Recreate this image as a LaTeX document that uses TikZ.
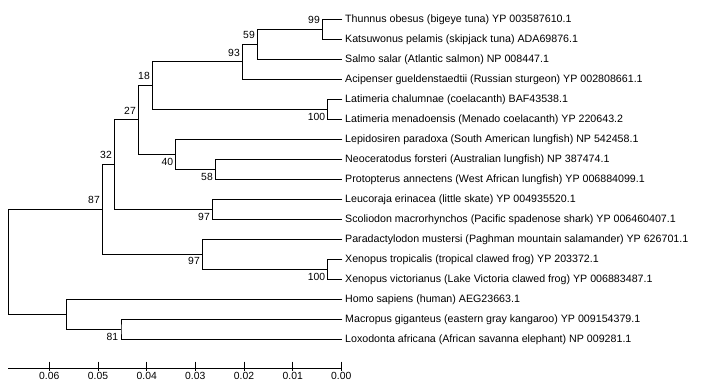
\documentclass[tikz,border=0pt]{standalone}
\usepackage{fontspec}
\setmainfont{Liberation Sans}
\begin{document}
\begin{tikzpicture}[x=1bp,y=-1bp,
  br/.style={draw=black,line width=0.9bp},
  leaf/.style={anchor=west,inner sep=0pt,font=\fontsize{10.7}{12}\selectfont},
  bs/.style={anchor=center,inner sep=0pt,font=\fontsize{10.4}{12}\selectfont},
  tk/.style={anchor=center,inner sep=0pt,font=\fontsize{10.4}{12}\selectfont}]
\useasboundingbox[fill=white] (0,0) rectangle (701,386);
% leaves
\def\lx{342.3}
\coordinate (L1) at (\lx,19.3);
\coordinate (L2) at (\lx,39.3);
\coordinate (L3) at (\lx,59.3);
\coordinate (L4) at (\lx,79.3);
\coordinate (L5) at (\lx,99.3);
\coordinate (L6) at (\lx,119.3);
\coordinate (L7) at (\lx,139.3);
\coordinate (L8) at (\lx,159.3);
\coordinate (L9) at (\lx,179.3);
\coordinate (L10) at (\lx,199.3);
\coordinate (L11) at (\lx,219.3);
\coordinate (L12) at (\lx,239.3);
\coordinate (L13) at (\lx,259.3);
\coordinate (L14) at (\lx,279.3);
\coordinate (L15) at (\lx,299.3);
\coordinate (L16) at (\lx,319.3);
\coordinate (L17) at (\lx,339.3);
% internal nodes
\coordinate (n99) at (322.3,29.3);
\coordinate (n59) at (257.3,44.3);
\coordinate (n93) at (242.3,61.8);
\coordinate (nLa) at (327.7,109.3);
\coordinate (n18) at (152.3,85.5);
\coordinate (n58) at (215.7,169.3);
\coordinate (n40) at (175.7,154.3);
\coordinate (n27) at (138.3,119.9);
\coordinate (nSh) at (212.7,209.3);
\coordinate (n32) at (114.3,164.6);
\coordinate (nXe) at (327.7,269.3);
\coordinate (nAm) at (202.7,254.3);
\coordinate (n87) at (102.3,209.5);
\coordinate (n81) at (121,329.3);
\coordinate (nMa) at (66.7,314.3);
\coordinate (root) at (8.3,261.9);
% branches
\draw[br] (L1) -| (n99) |- (L2);
\draw[br] (n99) -| (n59) |- (L3);
\draw[br] (n59) -| (n93) |- (L4);
\draw[br] (L5) -| (nLa) |- (L6);
\draw[br] (n93) -| (n18) |- (nLa);
\draw[br] (L8) -| (n58) |- (L9);
\draw[br] (L7) -| (n40) |- (n58);
\draw[br] (n18) -| (n27) |- (n40);
\draw[br] (L10) -| (nSh) |- (L11);
\draw[br] (n27) -| (n32) |- (nSh);
\draw[br] (L13) -| (nXe) |- (L14);
\draw[br] (L12) -| (nAm) |- (nXe);
\draw[br] (n32) -| (n87) |- (nAm);
\draw[br] (L16) -| (n81) |- (L17);
\draw[br] (L15) -| (nMa) |- (n81);
\draw[br] (n87) -| (root) |- (nMa);
% leaf labels
\node[leaf] (t1) at (345,19.3) {Thunnus obesus (bigeye tuna) YP 003587610.1};
\node[leaf] (t2) at (345,39.3) {Katsuwonus pelamis (skipjack tuna) ADA69876.1};
\node[leaf] (t3) at (345,59.3) {Salmo salar (Atlantic salmon) NP 008447.1};
\node[leaf] (t4) at (345,79.3) {Acipenser gueldenstaedtii (Russian sturgeon) YP 002808661.1};
\node[leaf] (t5) at (345,99.3) {Latimeria chalumnae (coelacanth) BAF43538.1};
\node[leaf] (t6) at (345,119.3) {Latimeria menadoensis (Menado coelacanth) YP 220643.2};
\node[leaf] (t7) at (345,139.3) {Lepidosiren paradoxa (South American lungfish) NP 542458.1};
\node[leaf] (t8) at (345,159.3) {Neoceratodus forsteri (Australian lungfish) NP 387474.1};
\node[leaf] (t9) at (345,179.3) {Protopterus annectens (West African lungfish) YP 006884099.1};
\node[leaf] (t10) at (345,199.3) {Leucoraja erinacea (little skate) YP 004935520.1};
\node[leaf] (t11) at (345,219.3) {Scoliodon macrorhynchos (Pacific spadenose shark) YP 006460407.1};
\node[leaf] (t12) at (345,239.3) {Paradactylodon mustersi (Paghman mountain salamander) YP 626701.1};
\node[leaf] (t13) at (345,259.3) {Xenopus tropicalis (tropical clawed frog) YP 203372.1};
\node[leaf] (t14) at (345,279.3) {Xenopus victorianus (Lake Victoria clawed frog) YP 006883487.1};
\node[leaf] (t15) at (345,299.3) {Homo sapiens (human) AEG23663.1};
\node[leaf] (t16) at (345,319.3) {Macropus giganteus (eastern gray kangaroo) YP 009154379.1};
\node[leaf] (t17) at (345,339.3) {Loxodonta africana (African savanna elephant) NP 009281.1};
% bootstrap values
\node[bs] (b99) at (314,20) {99};
\node[bs] (b59) at (249,34.7) {59};
\node[bs] (b93) at (234,52.7) {93};
\node[bs] (bLa) at (316.5,116.7) {100};
\node[bs] (b18) at (144,76) {18};
\node[bs] (b58) at (207,176.7) {58};
\node[bs] (b40) at (167.3,162) {40};
\node[bs] (b27) at (130,110.7) {27};
\node[bs] (bSh) at (204,216.7) {97};
\node[bs] (b32) at (106,155) {32};
\node[bs] (bXe) at (316.5,276.7) {100};
\node[bs] (bAm) at (194,261.3) {97};
\node[bs] (b87) at (94,199.7) {87};
\node[bs] (b81) at (112.3,336.7) {81};
% scale axis
\coordinate (a0) at (8.3,368.3);
\coordinate (a1) at (341.3,368.3);
\draw[br] (a0) -- (a1);
\foreach \v/\xx in {0.06/49.3,0.05/98.0,0.04/146.7,0.03/195.3,0.02/244.0,0.01/292.7,0.00/341.3}{
  \draw[br] (\xx,361.7) -- (\xx,371);
  \node[tk] (tick\xx) at (\xx,375.5) {\v};
}
\end{tikzpicture}
\end{document}
